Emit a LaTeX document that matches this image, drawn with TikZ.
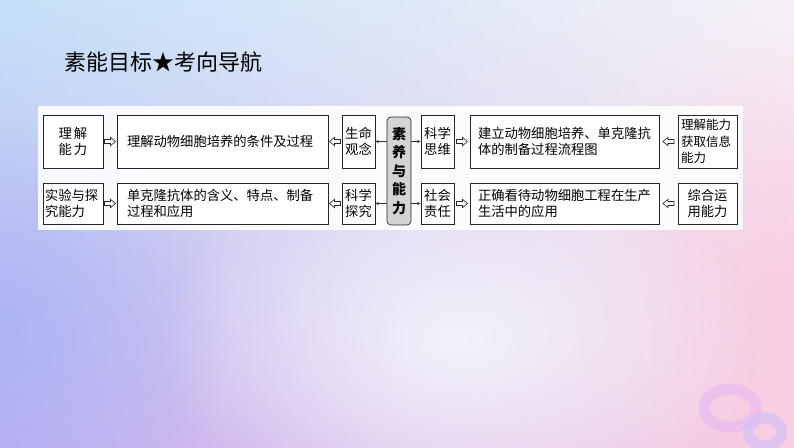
\documentclass[tikz,border=0pt]{standalone}
\usepackage{fontspec}
\setmainfont{Noto Sans CJK SC}
\usetikzlibrary{arrows.meta,calc,fadings,shadings}
\definecolor{bgTL}{RGB}{196,224,248}
\definecolor{bgTR}{RGB}{246,240,246}
\definecolor{bgBL}{RGB}{192,176,242}
\definecolor{bgBR}{RGB}{250,208,226}
\definecolor{glowL}{RGB}{168,178,244}
\definecolor{glowR}{RGB}{249,200,222}
\definecolor{glowC}{RGB}{244,246,253}
\definecolor{ringA}{RGB}{232,182,242}
\definecolor{ringB}{RGB}{206,192,248}
\definecolor{midgray}{RGB}{212,212,212}
\tikzfading[name=glowfade, inner color=transparent!0, outer color=transparent!100]
\newcommand{\bxfont}{\fontsize{13.3}{16}\selectfont}
\tikzset{
  box/.style={draw=black!85, line width=0.7pt, fill=white, inner ysep=0pt, font=\bxfont},
  holr/.pic={\draw[draw=black!85, fill=white, line width=0.6pt, line join=miter]
     (-5.5,-2) -- (0.5,-2) -- (0.5,-4.2) -- (5.5,0) -- (0.5,4.2) -- (0.5,2) -- (-5.5,2) -- cycle;},
  tip/.style={-{Stealth[length=3.5pt,width=3pt]}, line width=0.5pt, draw=black!80}
}
\begin{document}
\begin{tikzpicture}[x=1pt,y=-1pt]
\useasboundingbox (0,0) rectangle (794,447);
\shade[upper left=bgTL, upper right=bgTR, lower left=bgBL, lower right=bgBR] (0,0) rectangle (794,447);
\begin{scope}
\clip (0,0) rectangle (794,447);
\fill[glowL, opacity=0.8, path fading=glowfade] (0,330) ellipse (230 and 220);
\fill[glowR, opacity=0.7, path fading=glowfade] (794,300) ellipse (220 and 260);
\fill[glowC, opacity=0.9, path fading=glowfade] (460,340) ellipse (300 and 200);
\end{scope}
% rings
\draw[ringA, opacity=0.6, line width=11pt] (730,408) ellipse (26 and 19);
\draw[ringB, opacity=0.65, line width=11pt] (765,432) ellipse (16.5 and 14);
% title
\node[anchor=west, inner sep=0pt, font=\fontsize{22}{26}\selectfont] (title) at (64,62) {素能目标★考向导航};
% panel
\fill[white, opacity=0.9] (38,106) rectangle (743,230);
% row 1
\node[box, minimum width=60pt, minimum height=53pt, text width=60pt, inner xsep=0pt, align=center] (a1) at (73,141.5) {理\hspace{2pt}解\\能\hspace{2pt}力};
\node[box, minimum height=53pt, text width=191pt, inner xsep=10pt, align=left] (b1) at (222.5,141.5) {理解动物细胞培养的条件及过程};
\node[box, minimum height=53pt, text width=33pt, inner xsep=0pt, align=center] (c1) at (358.5,141.5) {生命\\观念};
\node[box, minimum height=53pt, text width=33pt, inner xsep=0pt, align=center] (d1) at (437.5,141.5) {科学\\思维};
\node[box, minimum height=53pt, text width=173pt, inner xsep=8pt, align=left] (e1) at (564.5,141.5) {建立动物细胞培养、单克隆抗\\体的制备过程流程图};
\node[box, minimum height=53pt, text width=53pt, inner xsep=3pt, align=left, font=\fontsize{12.5}{16.5}\selectfont] (f1) at (707.5,141.5) {理解能力\\获取信息\\能力};
% row 2
\node[box, minimum height=41pt, text width=56pt, inner xsep=2pt, align=left] (a2) at (73,203.5) {实验与探\\究能力};
\node[box, minimum height=41pt, text width=191pt, inner xsep=10pt, align=left] (b2) at (222.5,203.5) {单克隆抗体的含义、特点、制备\\过程和应用};
\node[box, minimum height=41pt, text width=33pt, inner xsep=0pt, align=center] (c2) at (358.5,203.5) {科学\\探究};
\node[box, minimum height=41pt, text width=33pt, inner xsep=0pt, align=center] (d2) at (437.5,203.5) {社会\\责任};
\node[box, minimum height=41pt, text width=173pt, inner xsep=8pt, align=left] (e2) at (564.5,203.5) {正确看待动物细胞工程在生产\\生活中的应用};
\node[box, minimum height=41pt, text width=59pt, inner xsep=0pt, align=center] (f2) at (707.5,203.5) {综合运\\用能力};
% center
\node[draw=black!85, line width=0.7pt, fill=midgray, rounded corners=4pt, minimum width=24pt, minimum height=108pt, inner sep=0pt, align=center, font=\bfseries\fontsize{14}{18.5}\selectfont] (mid) at (399,171) {素\\养\\与\\能\\力};
% thin arrows
\draw[tip] (mid.west |- c1.east) -- (c1.east);
\draw[tip] (mid.west |- c2.east) -- (c2.east);
\draw[tip] (mid.east |- d1.west) -- (d1.west);
\draw[tip] (mid.east |- d2.west) -- (d2.west);
% hollow arrows
\path ($(a1.east)!0.5!(b1.west)$) pic {holr};
\path ($(b1.east)!0.5!(c1.west)$) pic[xscale=-1] {holr};
\path ($(d1.east)!0.5!(e1.west)$) pic {holr};
\path ($(e1.east)!0.5!(f1.west)$) pic[xscale=-1] {holr};
\path ($(a2.east)!0.5!(b2.west)$) pic {holr};
\path ($(b2.east)!0.5!(c2.west)$) pic[xscale=-1] {holr};
\path ($(d2.east)!0.5!(e2.west)$) pic {holr};
\path ($(e2.east)!0.5!(f2.west)$) pic[xscale=-1] {holr};
\end{tikzpicture}
\end{document}
